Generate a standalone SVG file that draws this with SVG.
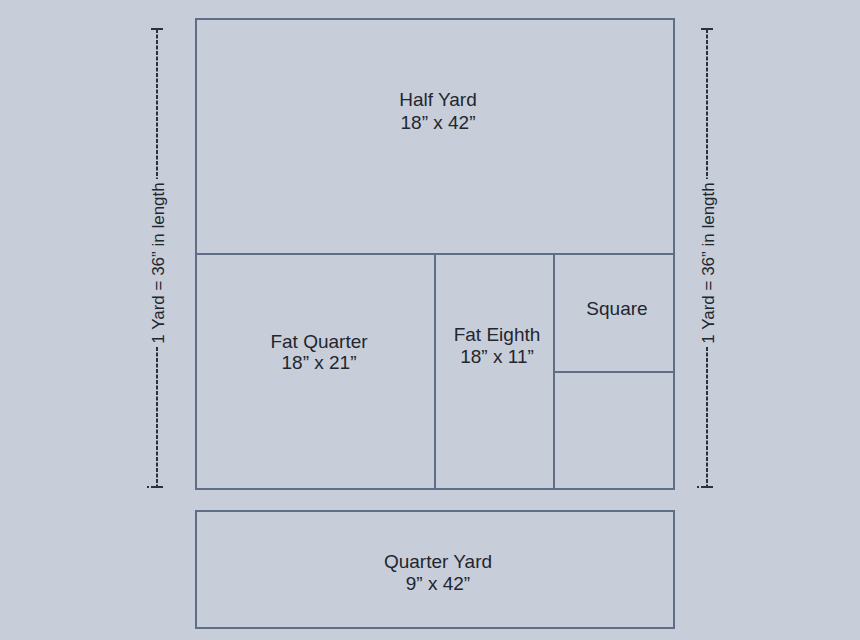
<svg xmlns="http://www.w3.org/2000/svg" width="860" height="640" viewBox="0 0 860 640">
<style>
.bg{fill:#c7ced9}
.pc{fill:#c7ced9;stroke:#5f6d86;stroke-width:2}
.t{font-family:"Liberation Sans",Arial,sans-serif;font-size:19px;fill:#22262e;text-anchor:middle}
.s{font-family:"Liberation Sans",Arial,sans-serif;font-size:17px;fill:#22262e;text-anchor:middle}
.dash{stroke:#2a3140;stroke-width:2;stroke-dasharray:4 1.5;fill:none}
.tick{stroke:#2a3140;stroke-width:2;fill:none}
</style>
<rect class="bg" x="0" y="0" width="860" height="640"/>
<g id="half-yard">
<rect class="pc" x="196" y="19" width="478" height="235"/>
<text class="t" x="438" y="106">Half Yard</text>
<text class="t" x="438" y="129">18” x 42”</text>
</g>
<g id="fat-quarter">
<rect class="pc" x="196" y="254" width="239" height="235"/>
<text class="t" x="319" y="348">Fat Quarter</text>
<text class="t" x="319" y="369">18” x 21”</text>
</g>
<g id="fat-eighth">
<rect class="pc" x="435" y="254" width="119" height="235"/>
<text class="t" x="497" y="341">Fat Eighth</text>
<text class="t" x="497" y="363">18” x 11”</text>
</g>
<g id="square">
<rect class="pc" x="554" y="254" width="120" height="118"/>
<text class="t" x="617" y="315">Square</text>
</g>
<g id="square-2">
<rect class="pc" x="554" y="372" width="120" height="117"/>
</g>
<g id="quarter-yard">
<rect class="pc" x="196" y="511" width="478" height="117"/>
<text class="t" x="438" y="568">Quarter Yard</text>
<text class="t" x="438" y="590">9” x 42”</text>
</g>
<g id="ruler-left">
<line class="dash" x1="157" y1="29" x2="157" y2="179"/>
<line class="dash" x1="157" y1="347" x2="157" y2="487"/>
<line class="tick" x1="151" y1="487" x2="163" y2="487"/>
<line class="tick" x1="147" y1="487" x2="149" y2="487"/>
<line class="tick" x1="151" y1="29" x2="163" y2="29"/>
<text class="s" transform="translate(164,263) rotate(-90)">1 Yard = 36” in length</text>
</g>
<g id="ruler-right">
<line class="dash" x1="707" y1="29" x2="707" y2="179"/>
<line class="dash" x1="707" y1="347" x2="707" y2="487"/>
<line class="tick" x1="701" y1="487" x2="713" y2="487"/>
<line class="tick" x1="697" y1="487" x2="699" y2="487"/>
<line class="tick" x1="701" y1="29" x2="713" y2="29"/>
<text class="s" transform="translate(714,263) rotate(-90)">1 Yard = 36” in length</text>
</g>
</svg>
